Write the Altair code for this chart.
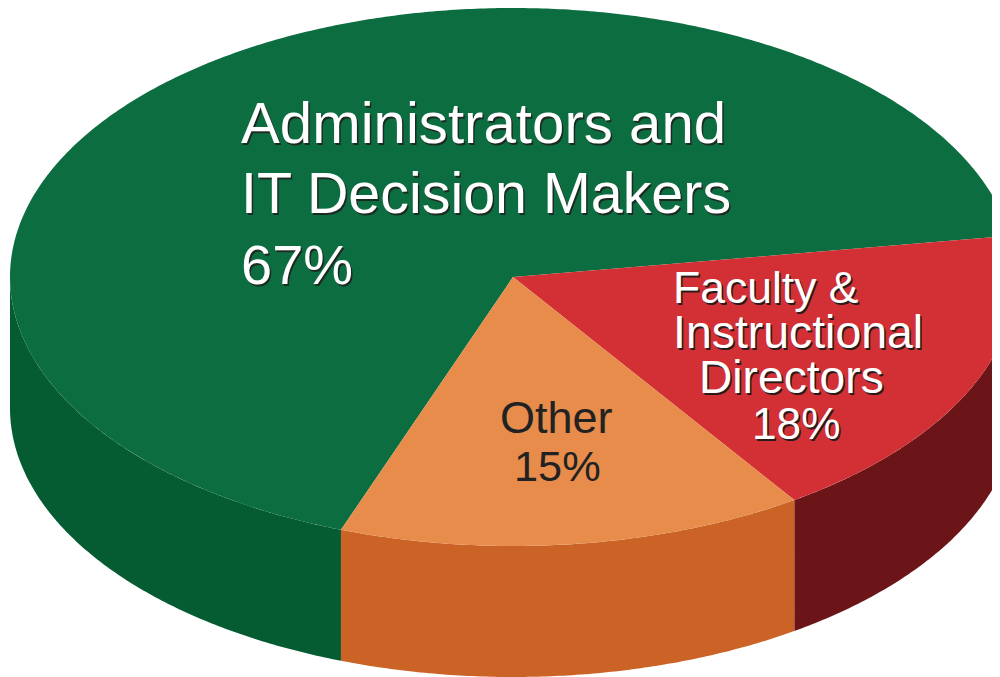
import math
import altair as alt

segments = ["Administrators and IT Decision Makers", "Faculty & Instructional Directors", "Other"]
shares = [67, 18, 15]
top_colors = ["#0c6d40", "#d23035", "#e78c4b"]
side_colors = ["#055c33", "#6c1518", "#cb6226"]

CX, CY, RX, RY, DEPTH = 503, 269, 503, 269, 131
START = 110.0
VIEW_W, VIEW_H = 982, 669


def pt(deg, dy=0.0):
    r = math.radians(deg)
    return [CX + RX * math.cos(r), CY + RY * math.sin(r) + dy]


def crop_right(coords, limit):
    """Clip a polygon to x <= limit (the page cannot show anything further right)."""
    out = []
    for i, p in enumerate(coords):
        q = coords[(i + 1) % len(coords)]
        if p[0] <= limit:
            out.append(p)
        if (p[0] <= limit) != (q[0] <= limit):
            k = (limit - p[0]) / (q[0] - p[0])
            out.append([limit, p[1] + k * (q[1] - p[1])])
    return out


def feature(name, coords):
    coords = crop_right(coords, VIEW_W)
    return {"type": "Feature", "properties": {"part": name},
            "geometry": {"type": "Polygon", "coordinates": [coords + [coords[0]]]}}


def sweep(a0, a1):
    n = int((a1 - a0) * 2) + 2
    return [a0 + (a1 - a0) * i / (n - 1) for i in range(n)]


features = []
angle = START
spans = []
for name, share in zip(segments, shares):
    a1 = angle + share * 3.6
    spans.append((name, angle, a1))
    angle = a1

# side walls first: only the front half of the rim (0..180 degrees) is visible
for name, a0, a1 in spans:
    for shift in (0.0, -360.0):
        lo, hi = max(a0 + shift, 0.0), min(a1 + shift, 180.0)
        if hi > lo:
            arc = sweep(lo, hi)
            features.append(feature("side " + name,
                                    [pt(a) for a in arc] + [pt(a, DEPTH) for a in reversed(arc)]))
for name, a0, a1 in spans:
    features.append(feature("top " + name, [[CX, CY]] + [pt(a) for a in sweep(a0, a1)]))

domain = ["side " + s for s in segments] + ["top " + s for s in segments]
colors = side_colors + top_colors

pie = alt.Chart(alt.Data(values=features)).mark_geoshape(strokeWidth=0).encode(
    color=alt.Color("properties.part:N", scale=alt.Scale(domain=domain, range=colors), legend=None)
).project(type="identity")


def label(text, x, y, size, color, shadow=None):
    layers = []
    data = alt.Data(values=[{"t": text}])
    base = dict(font="Liberation Sans", fontSize=size, align="left", baseline="alphabetic")
    if shadow:
        layers.append(alt.Chart(data).mark_text(color=shadow, **base).encode(
            text="t:N", x=alt.value(x + 1.5), y=alt.value(y + 1.5)))
    layers.append(alt.Chart(data).mark_text(color=color, **base).encode(
        text="t:N", x=alt.value(x), y=alt.value(y)))
    return layers


texts = []
texts += label("Administrators and", 231, 135, 58.2, "#ffffff", "#1d2a22")
texts += label("IT Decision Makers", 231, 205, 57.4, "#ffffff", "#1d2a22")
texts += label("67%", 231, 276, 56, "#ffffff", "#1d2a22")
texts += label("Faculty &", 663, 295, 44.5, "#ffffff", "#2a1a1a")
texts += label("Instructional", 663, 340, 46.4, "#ffffff", "#2a1a1a")
texts += label("Directors", 689, 385, 46.2, "#ffffff", "#2a1a1a")
texts += label("18%", 742, 431, 44.2, "#ffffff", "#2a1a1a")
texts += label("Other", 490, 425, 45, "#222222")
texts += label("15%", 504, 473, 43.3, "#222222")

chart = alt.layer(pie, *texts).properties(
    width=VIEW_W, height=VIEW_H,
    padding={"left": 2, "top": 0, "right": 0, "bottom": 0},
    autosize=alt.AutoSizeParams(type="none"),
    background="#ffffff",
).configure_view(stroke=None)

chart.save("out.html", embed_options={"renderer": "svg", "actions": False})
